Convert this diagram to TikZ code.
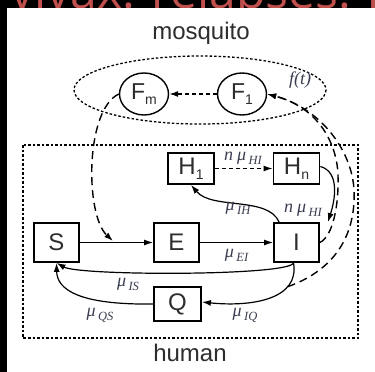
\documentclass[tikz,border=0pt]{standalone}
\usepackage{fontspec}
\setmainfont{Liberation Sans}
\newfontfamily\serifit{Liberation Serif}
\newfontfamily\titlefont{Open Sans}
\usetikzlibrary{arrows.meta,shapes.geometric}
\definecolor{titlered}{RGB}{192,80,77}
\definecolor{inkgray}{RGB}{45,45,45}
\definecolor{rategray}{RGB}{58,62,80}
% transition rate label: optional prefix, then mu with a subscript
\newcommand{\rateLbl}[2]{{\serifit\itshape\fontsize{18}{18}\selectfont #1μ\hspace{2.5pt}\raisebox{-4pt}{\fontsize{12.5}{12.5}\selectfont #2}}}
\newcommand{\sub}[2]{#1\raisebox{-5pt}{\fontsize{14}{14}\selectfont #2}}
\begin{document}
\begin{tikzpicture}[x=1pt,y=-1pt,
  box/.style={draw, line width=1.8pt, fill=white, inner sep=0pt, text=inkgray,
    font=\fontsize{24}{24}\selectfont},
  mosq/.style={ellipse, draw, line width=1.4pt, fill=white, inner sep=0pt,
    minimum width=49, minimum height=42, text=inkgray, font=\fontsize{23}{23}\selectfont},
  flow/.style={-{Latex[length=9pt,width=6pt]}, line width=1.2pt},
  frame/.style={line width=1.3pt, dash pattern=on 2.5pt off 2pt},
  shortdash/.style={line width=1.3pt, dash pattern=on 4pt off 3pt},
  longdash/.style={line width=1.4pt, dash pattern=on 8pt off 5pt},
  rate/.style={inner sep=0pt, text=rategray},
  caption/.style={inner sep=0pt, text=inkgray, font=\fontsize{24}{24}\selectfont}]
\useasboundingbox (0,0) rectangle (375,372);
% slide background and the cut-off title line
\fill[black] (0,0) rectangle (375,372);
\node[anchor=base west, inner sep=0pt, text=titlered,
  font=\titlefont\fontsize{48}{48}\selectfont] (title) at (10,9) {vivax: relapses: r};
\fill[white] (7,8) rectangle (375,372);

% compartments
\draw[frame] (200,90) ellipse [x radius=126, y radius=34];
\draw[frame] (23,145) rectangle (358,338);
\node[caption] (mosquito) at (201,33) {mosquito};
\node[caption] (human) at (190,353) {human};

\node[mosq] (Fm) at (144,94) {\sub{F}{m}};
\node[mosq] (F1) at (242,94) {\sub{F}{1}};

\node[box, minimum width=45, minimum height=39] (S) at (56.5,242.5) {S};
\node[box, minimum width=45, minimum height=39] (E) at (176.5,242.5) {E};
\node[box, minimum width=45, minimum height=39] (I) at (296.5,242.5) {I};
\node[box, minimum width=46, minimum height=31] (H1) at (191,168.5) {\sub{H}{1}};
\node[box, minimum width=46, minimum height=31] (Hn) at (296.5,168.5) {\sub{H}{n}};
\node[box, minimum width=47, minimum height=34] (Q) at (177.5,304) {Q};

% mosquito stages
\draw[shortdash, -{Latex[length=9pt,width=6pt]}] (F1.west) -- (Fm.east);

% infection of humans by mosquitoes
\coordinate (seHit) at (113,241);
\draw[flow] (S.east) -- (E.west);
\draw[longdash, -{Latex[length=9pt,width=6pt]}] (Fm.west) .. controls (85,110) and (85,215) .. (seHit);

% human transitions
\draw[flow] (E.east) -- node[rate, below=6pt] (lEI) {\rateLbl{}{EI}} (I.west);
\draw[flow] ([xshift=6]I.north west) .. controls (268,196) and (212,210) .. (H1.south);
\node[rate] (lIH) at (238,208) {\rateLbl{}{IH}};
\draw[shortdash, -{Latex[length=9pt,width=6pt]}] (H1.east) -- (Hn.west);
\node[rate] (lHI1) at (243,158) {\rateLbl{\textit{n}\hspace{4pt}}{HI}};
\draw[flow] ([yshift=2]Hn.east) .. controls (340,172) and (335,200) .. ([xshift=8]I.north east);
\node[rate] (lHI2) at (303,210) {\rateLbl{\textit{n}\hspace{4pt}}{HI}};

\draw[flow] ([xshift=-3]I.south) .. controls (290,276) and (80,276) .. (S.south);
\node[rate] (lIS) at (128,284) {\rateLbl{}{IS}};
\draw[flow] ([xshift=-3]I.south) .. controls (300,300) and (250,307) .. coordinate[pos=0.27] (iqTap) ([yshift=2]Q.east);
\node[rate] (lIQ) at (245,315) {\rateLbl{}{IQ}};
\draw[flow] (Q.west) .. controls (80,305) and (57,290) .. (S.south);
\node[rate] (lQS) at (100,315) {\rateLbl{}{QS}};

% infection of mosquitoes by humans
\draw[longdash, -{Latex[length=9pt,width=6pt]}] (I.east) .. controls (333,236) and (339,205) .. (338,175)
  .. controls (337,145) and (320,108) .. (F1.east);
\draw[longdash, -{Latex[length=9pt,width=6pt]}] (iqTap) .. controls (335,270) and (356,235) .. (354,190)
  .. controls (352,150) and (320,108) .. (F1.east);
\node[rate, font=\serifit\itshape\fontsize{18}{18}\selectfont] (ft) at (300,80) {f(t)};
\end{tikzpicture}
\end{document}
